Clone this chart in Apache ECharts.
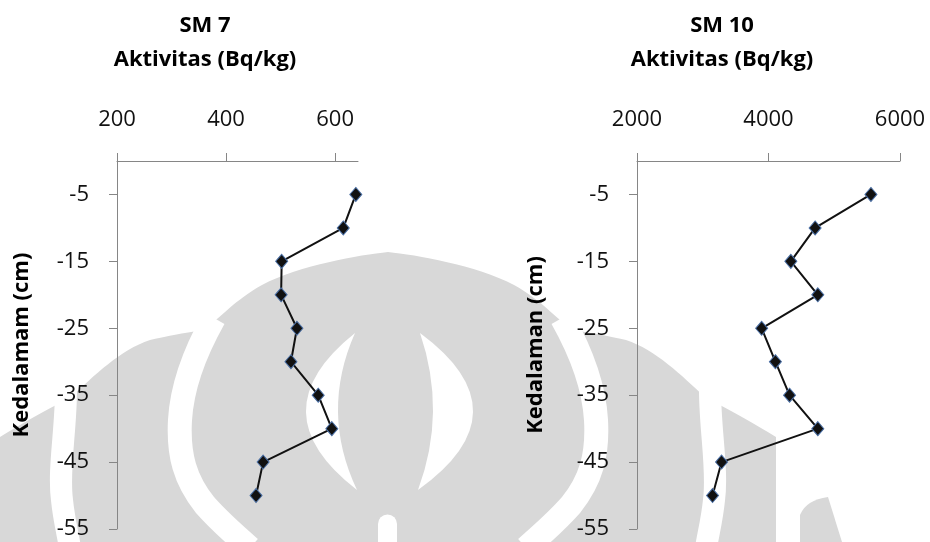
<!DOCTYPE html>
<html>
<head>
<meta charset="utf-8">
<script src="https://cdn.jsdelivr.net/npm/echarts@6/dist/echarts.min.js"></script>
<style>
  html, body { margin: 0; padding: 0; background: #ffffff; }
  #chart { width: 930px; height: 542px; }
</style>
</head>
<body>
<div id="chart"></div>
<script>
// Sampling depths (cm) and measured activity (Bq/kg) for the two cores
const depth = [-5, -10, -15, -20, -25, -30, -35, -40, -45, -50];
const sm7 = [638, 615, 502, 501, 530, 519, 569, 594, 468, 455];
const sm10 = [5558, 4709, 4340, 4750, 3896, 4105, 4320, 4750, 3286, 3149];

// Tick labels shown on the axes
const depthTicks = [-55, -45, -35, -25, -15, -5];
const sm7Ticks = [200, 400, 600];
const sm10Ticks = [2000, 4000, 6000];

const FONT = '"Open Sans", "DejaVu Sans", sans-serif';
const AXIS_GRAY = '#868686';
const WM = '#d8d8d8';

function pairs(xs) {
  return depth.map((d, i) => [xs[i], d]);
}

// A free-form outline shape: shape.cmds is a list of drawing commands
echarts.graphic.registerShape('outline', echarts.graphic.extendShape({
  shape: { cmds: [] },
  buildPath: function (ctx, shape) {
    shape.cmds.forEach(function (c) {
      switch (c[0]) {
        case 'M': ctx.moveTo(c[1], c[2]); break;
        case 'L': ctx.lineTo(c[1], c[2]); break;
        case 'C': ctx.bezierCurveTo(c[1], c[2], c[3], c[4], c[5], c[6]); break;
        case 'Q': ctx.quadraticCurveTo(c[1], c[2], c[3], c[4]); break;
        case 'A': ctx.arc(c[1], c[2], c[3], c[4], c[5], c[6]); break;
        case 'Z': ctx.closePath(); break;
      }
    });
  }
}));

function plain(v) { return String(v); }

function xAxisFor(idx, min, max, ticks) {
  return {
    type: 'value', gridIndex: idx, position: 'top',
    min: min, max: max,
    axisLine: { show: true, onZero: false, lineStyle: { color: AXIS_GRAY, width: 1 } },
    axisTick: { show: true, length: 8, customValues: ticks, lineStyle: { color: AXIS_GRAY } },
    axisLabel: { customValues: ticks, formatter: plain, margin: 30, fontFamily: FONT, fontSize: 22, color: '#111' },
    splitLine: { show: false }
  };
}

function yAxisFor(idx, name, gap) {
  return {
    type: 'value', gridIndex: idx,
    min: -55, max: 0,
    name: name, nameLocation: 'middle', nameRotate: 90, nameGap: gap,
    nameTextStyle: { fontFamily: FONT, fontSize: 22, fontWeight: 'bold', color: '#000' },
    axisLine: { show: true, onZero: false, lineStyle: { color: AXIS_GRAY, width: 1 } },
    axisTick: { show: true, length: 8, customValues: depthTicks, lineStyle: { color: AXIS_GRAY } },
    axisLabel: { customValues: depthTicks, formatter: plain, margin: 28, fontFamily: FONT, fontSize: 22, color: '#111' },
    splitLine: { show: false }
  };
}

function profile(idx, xs) {
  return {
    type: 'line', xAxisIndex: idx, yAxisIndex: idx,
    data: pairs(xs),
    symbol: 'diamond', symbolSize: [12, 14],
    lineStyle: { color: '#111', width: 2 },
    itemStyle: { color: '#111', borderColor: '#4a6fa5', borderWidth: 1 },
    clip: false,
    z: 3
  };
}

function piece(cmds, style, z) {
  return { type: 'outline', z: z, silent: true, shape: { cmds: cmds }, style: style };
}

// Faint university emblem printed behind the figure
const fillGray = { fill: WM };
const fillWhite = { fill: '#ffffff' };
const gap = function (w) { return { fill: 'none', stroke: '#ffffff', lineWidth: w }; };
const emblem = [
  piece([
    ['M', 0, 542], ['L', 0, 437],
    ['C', 20, 425, 45, 410, 70, 398], ['C', 95, 375, 120, 350, 150, 340],
    ['C', 180, 333, 195, 332, 205, 329], ['C', 220, 318, 235, 300, 262, 285],
    ['C', 300, 265, 360, 255, 388, 252], ['C', 416, 255, 476, 265, 514, 285],
    ['C', 541, 300, 556, 318, 571, 329], ['C', 581, 332, 596, 333, 626, 340],
    ['C', 656, 350, 681, 375, 706, 398], ['C', 731, 410, 756, 425, 776, 437],
    ['L', 776, 542], ['Z']
  ], fillGray, -10),
  piece([['M', 66, 390], ['C', 66, 430, 58, 470, 62, 500], ['C', 64, 520, 68, 535, 70, 548]], gap(22), -9),
  piece([['M', 710, 390], ['C', 710, 430, 718, 470, 714, 500], ['C', 712, 520, 708, 535, 706, 548]], gap(22), -9),
  piece([['M', 214, 318], ['C', 196, 350, 182, 385, 180, 420], ['C', 178, 455, 185, 480, 205, 505], ['C', 220, 522, 235, 535, 250, 548]], gap(24), -9),
  piece([['M', 562, 318], ['C', 580, 350, 594, 385, 596, 420], ['C', 598, 455, 591, 480, 571, 505], ['C', 556, 522, 541, 535, 526, 548]], gap(24), -9),
  piece([['M', 355, 333], ['Q', 256, 412, 357, 490], ['Q', 320, 412, 355, 333], ['Z']], fillWhite, -9),
  piece([['M', 420, 333], ['Q', 527, 412, 418, 490], ['Q', 447, 412, 420, 333], ['Z']], fillWhite, -9),
  piece([['M', 378, 542], ['L', 378, 524], ['A', 387.5, 524, 9.5, Math.PI, 2 * Math.PI, false], ['L', 397, 542], ['Z']], fillWhite, -9),
  piece([['M', 800, 542], ['L', 800, 515], ['Q', 806, 500, 828, 497], ['L', 842, 542], ['Z']], fillGray, -9)
];

const titleStyle = { fontFamily: FONT, fontSize: 22, fontWeight: 'bold', color: '#000', lineHeight: 34 };

const chart = echarts.init(document.getElementById('chart'), null, { renderer: 'canvas' });
chart.setOption({
  backgroundColor: '#ffffff',
  animation: false,
  title: [
    { text: 'SM 7\nAktivitas (Bq/kg)', left: 205, top: 9, padding: 0, textAlign: 'center', textStyle: titleStyle },
    { text: 'SM 10\nAktivitas (Bq/kg)', left: 722, top: 9, padding: 0, textAlign: 'center', textStyle: titleStyle }
  ],
  grid: [
    { left: 117, top: 161, width: 241, height: 368, containLabel: false },
    { left: 637, top: 161, width: 263, height: 368, containLabel: false }
  ],
  xAxis: [
    xAxisFor(0, 200, 642, sm7Ticks),
    xAxisFor(1, 2000, 6000, sm10Ticks)
  ],
  yAxis: [
    yAxisFor(0, 'Kedalamam (cm)', 84),
    yAxisFor(1, 'Kedalaman (cm)', 90)
  ],
  series: [profile(0, sm7), profile(1, sm10)],
  graphic: emblem
});
</script>
</body>
</html>
